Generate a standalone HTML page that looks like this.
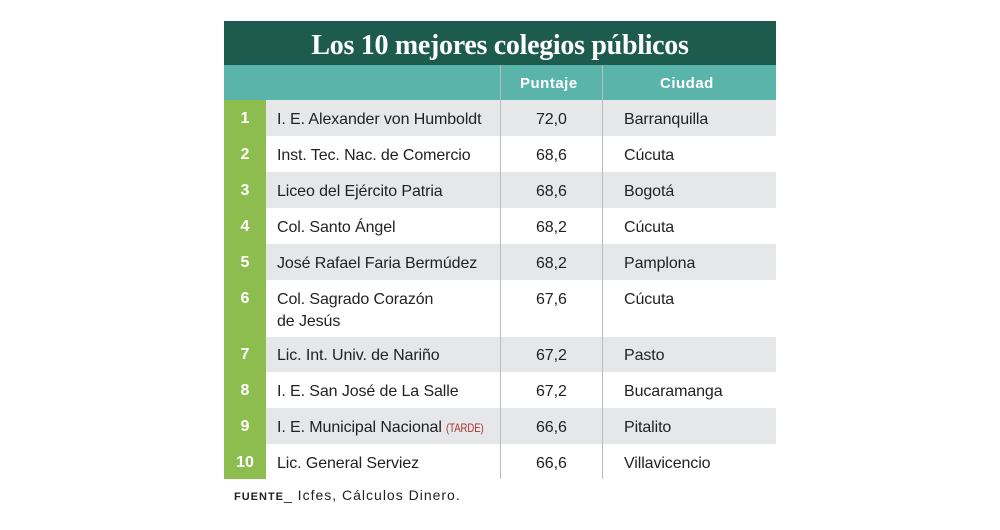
<!DOCTYPE html>
<html><head><meta charset="utf-8"><style>
body{margin:0;width:1000px;height:530px;background:#fff;position:relative;overflow:hidden;font-family:"Liberation Sans",sans-serif}
.a{position:absolute}
.title{left:224px;top:21px;width:552px;height:44px;background:#1d5b4f;color:#fff;font-family:"Liberation Serif",serif;font-weight:bold;font-size:28px;text-align:center;line-height:50px;letter-spacing:-0.3px}
.hdr{left:224px;top:65px;width:552px;height:35px;background:#5bb4aa}
.hdr span{position:absolute;top:1px;line-height:36px;color:#fff;font-weight:bold;font-size:15px;letter-spacing:0.5px}
.green{left:224px;top:100px;width:42px;height:379px;background:#8dbd4f}
.row{left:266px;width:510px}
.g{background:#e6e7e8}
.n{position:absolute;left:224px;width:42px;text-align:center;color:#fff;font-weight:bold;font-size:16px;margin-top:2px}
.t{position:absolute;font-size:16px;color:#222;line-height:22px;margin-top:2px;letter-spacing:-0.1px}
.vl{position:absolute;top:65px;width:1px;height:414px;background:#b8bcbc}
.tr{color:#a8322d;font-size:12px;display:inline-block;transform:scaleX(0.8);transform-origin:left}
</style></head><body>
<div class="a title">Los 10 mejores colegios públicos</div>
<div class="a hdr"><span style="left:296px">Puntaje</span><span style="left:436px">Ciudad</span></div>
<div class="a green"></div>
<div class="a row g" style="top:100px;height:36px"></div>
<div class="a row g" style="top:172px;height:36px"></div>
<div class="a row g" style="top:244px;height:36px"></div>
<div class="a row g" style="top:337px;height:35px"></div>
<div class="a row g" style="top:408px;height:36px"></div>
<div class="vl" style="left:500px"></div>
<div class="vl" style="left:602px"></div>

<div class="n" style="top:108px">1</div><div class="t" style="left:277px;top:107px">I. E. Alexander von Humboldt</div><div class="t" style="left:536px;top:107px">72,0</div><div class="t" style="left:624px;top:107px">Barranquilla</div>
<div class="n" style="top:144px">2</div><div class="t" style="left:277px;top:143px">Inst. Tec. Nac. de Comercio</div><div class="t" style="left:536px;top:143px">68,6</div><div class="t" style="left:624px;top:143px">Cúcuta</div>
<div class="n" style="top:180px">3</div><div class="t" style="left:277px;top:179px">Liceo del Ejército Patria</div><div class="t" style="left:536px;top:179px">68,6</div><div class="t" style="left:624px;top:179px">Bogotá</div>
<div class="n" style="top:216px">4</div><div class="t" style="left:277px;top:215px">Col. Santo Ángel</div><div class="t" style="left:536px;top:215px">68,2</div><div class="t" style="left:624px;top:215px">Cúcuta</div>
<div class="n" style="top:252px">5</div><div class="t" style="left:277px;top:251px">José Rafael Faria Bermúdez</div><div class="t" style="left:536px;top:251px">68,2</div><div class="t" style="left:624px;top:251px">Pamplona</div>
<div class="n" style="top:288px">6</div><div class="t" style="left:277px;top:287px">Col. Sagrado Corazón<br>de Jesús</div><div class="t" style="left:536px;top:287px">67,6</div><div class="t" style="left:624px;top:287px">Cúcuta</div>
<div class="n" style="top:344px">7</div><div class="t" style="left:277px;top:343px">Lic. Int. Univ. de Nariño</div><div class="t" style="left:536px;top:343px">67,2</div><div class="t" style="left:624px;top:343px">Pasto</div>
<div class="n" style="top:380px">8</div><div class="t" style="left:277px;top:379px">I. E. San José de La Salle</div><div class="t" style="left:536px;top:379px">67,2</div><div class="t" style="left:624px;top:379px">Bucaramanga</div>
<div class="n" style="top:416px">9</div><div class="t" style="left:277px;top:415px">I. E. Municipal Nacional <span class="tr">(TARDE)</span></div><div class="t" style="left:536px;top:415px">66,6</div><div class="t" style="left:624px;top:415px">Pitalito</div>
<div class="n" style="top:452px">10</div><div class="t" style="left:277px;top:451px">Lic. General Serviez</div><div class="t" style="left:536px;top:451px">66,6</div><div class="t" style="left:624px;top:451px">Villavicencio</div>

<div class="a" style="left:234px;top:487px;font-size:14px;color:#222;letter-spacing:1px"><b style="font-size:11px">FUENTE</b>_ Icfes, Cálculos Dinero.</div>
</body></html>
